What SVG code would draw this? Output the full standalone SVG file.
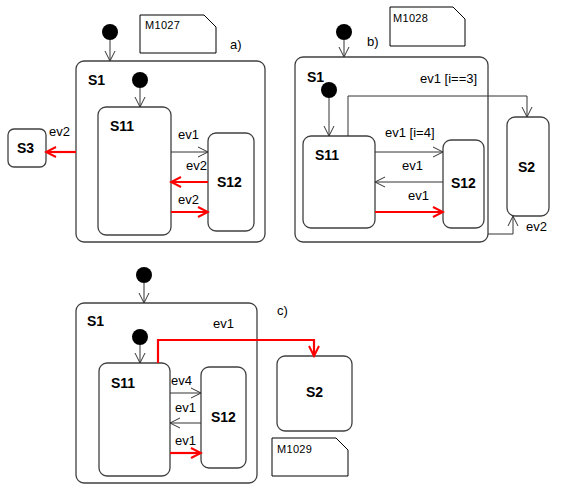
<svg xmlns="http://www.w3.org/2000/svg" width="563" height="491" viewBox="0 0 563 491">
<style>
.st{fill:#fff;stroke:#404040;stroke-width:1.3}
.dot{fill:#000}
.note{fill:#fff;stroke:#000;stroke-width:1}
.nt{font-family:"Liberation Sans",Arial,sans-serif;font-size:11px;fill:#000;letter-spacing:0.3px}
.sn{font-family:"Liberation Sans",Arial,sans-serif;font-size:14px;font-weight:bold;fill:#000}
.lb{font-family:"Liberation Sans",Arial,sans-serif;font-size:13px;fill:#000}
.bl{fill:none;stroke:#333;stroke-width:1;marker-end:url(#ab)}
.rd{fill:none;stroke:#f00;stroke-width:2.2;marker-end:url(#ar)}
</style>
<defs>
<marker id="ab" markerUnits="userSpaceOnUse" viewBox="-12 -7 14 14" refX="0" refY="0" markerWidth="14" markerHeight="14" orient="auto">
<path d="M-10,-5 L0,0 L-10,5" fill="none" stroke="#333" stroke-width="1"/>
</marker>
<marker id="ar" markerUnits="userSpaceOnUse" viewBox="-12 -7 14 14" refX="0" refY="0" markerWidth="14" markerHeight="14" orient="auto">
<path d="M-10,-5 L0,0 L-10,5" fill="none" stroke="#f00" stroke-width="2"/>
</marker>
</defs>

<!-- a) -->
<g id="a-S1"><rect class="st" x="76" y="61" width="189" height="181" rx="8"/><text class="sn" x="88" y="85">S1</text></g>
<g id="a-init"><circle class="dot" cx="110" cy="32" r="8"/></g>
<g id="a-init2"><circle class="dot" cx="140" cy="80" r="8"/></g>
<g id="a-S11"><rect class="st" x="98" y="107" width="73" height="128" rx="8"/><text class="sn" x="110" y="131">S11</text></g>
<g id="a-S12"><rect class="st" x="208" y="133" width="46" height="98" rx="8"/><text class="sn" x="217" y="187">S12</text></g>
<g id="a-S3"><rect class="st" x="8" y="129" width="38" height="38" rx="6"/><text class="sn" x="17" y="153">S3</text></g>
<g id="a-note"><path class="note" d="M140,15 H204 L216,27 V53 H140 Z"/><text class="nt" x="145" y="29">M1027</text></g>
<text class="lb" x="230" y="49">a)</text>

<!-- b) -->
<g id="b-S1"><rect class="st" x="295" y="57" width="193" height="185" rx="8"/><text class="sn" x="307" y="82">S1</text></g>
<g id="b-init"><circle class="dot" cx="344" cy="32" r="8"/></g>
<g id="b-init2"><circle class="dot" cx="329" cy="90" r="8"/></g>
<g id="b-S11"><rect class="st" x="303" y="136" width="72" height="92" rx="8"/><text class="sn" x="315" y="160">S11</text></g>
<g id="b-S12"><rect class="st" x="443" y="140" width="41" height="88" rx="8"/><text class="sn" x="451" y="188">S12</text></g>
<g id="b-S2"><rect class="st" x="507" y="117" width="42" height="99" rx="8"/><text class="sn" x="518" y="172">S2</text></g>
<g id="b-note"><path class="note" d="M390,7 H453 L465,19 V46 H390 Z"/><text class="nt" x="393" y="22">M1028</text></g>
<text class="lb" x="367" y="46">b)</text>

<!-- c) -->
<g id="c-S1"><rect class="st" x="76" y="303" width="181" height="180" rx="8"/><text class="sn" x="87" y="326">S1</text></g>
<g id="c-init"><circle class="dot" cx="144" cy="275" r="8"/></g>
<g id="c-init2"><circle class="dot" cx="140" cy="337" r="8"/></g>
<g id="c-S11"><rect class="st" x="99" y="363" width="71" height="113" rx="8"/><text class="sn" x="111" y="388">S11</text></g>
<g id="c-S12"><rect class="st" x="201" y="367" width="45" height="101" rx="8"/><text class="sn" x="211" y="422">S12</text></g>
<g id="c-S2"><rect class="st" x="277" y="356" width="75" height="75" rx="8"/><text class="sn" x="306" y="397">S2</text></g>
<g id="c-note"><path class="note" d="M272,438 H336 L348,450 V476 H272 Z"/><text class="nt" x="277" y="453">M1029</text></g>
<text class="lb" x="277" y="315">c)</text>

<g id="connectors">
<!-- a -->
<path class="bl" d="M110,40 V61"/>
<path class="bl" d="M140,88 V107"/>
<path class="rd" d="M76,152 H46"/>
<path class="bl" d="M171,152 H208"/>
<path class="rd" d="M208,182 H171"/>
<path class="rd" d="M171,212 H208"/>
<!-- b -->
<path class="bl" d="M344,40 V57"/>
<path class="bl" d="M329,98 V136"/>
<path class="bl" d="M348,136 V96 H527 V117"/>
<path class="bl" d="M375,152 H443"/>
<path class="bl" d="M443,182 H375"/>
<path class="rd" d="M375,212 H443"/>
<path class="bl" d="M488,234 H513 V216"/>
<!-- c -->
<path class="bl" d="M144,283 V303"/>
<path class="bl" d="M140,345 V363"/>
<path class="rd" d="M158,363 V340 H314 V356"/>
<path class="bl" d="M170,393 H201"/>
<path class="bl" d="M201,423 H170"/>
<path class="rd" d="M170,453 H201"/>
</g>

<g id="labels">
<text class="lb" x="49" y="136">ev2</text>
<text class="lb" x="178" y="139">ev1</text>
<text class="lb" x="186" y="170">ev2</text>
<text class="lb" x="178" y="204">ev2</text>
<text class="lb" x="420" y="83">ev1 [i==3]</text>
<text class="lb" x="385" y="137">ev1 [i=4]</text>
<text class="lb" x="402" y="170">ev1</text>
<text class="lb" x="408" y="200">ev1</text>
<text class="lb" x="526" y="231">ev2</text>
<text class="lb" x="213" y="328">ev1</text>
<text class="lb" x="171" y="385">ev4</text>
<text class="lb" x="175" y="412">ev1</text>
<text class="lb" x="175" y="445">ev1</text>
</g>
</svg>
